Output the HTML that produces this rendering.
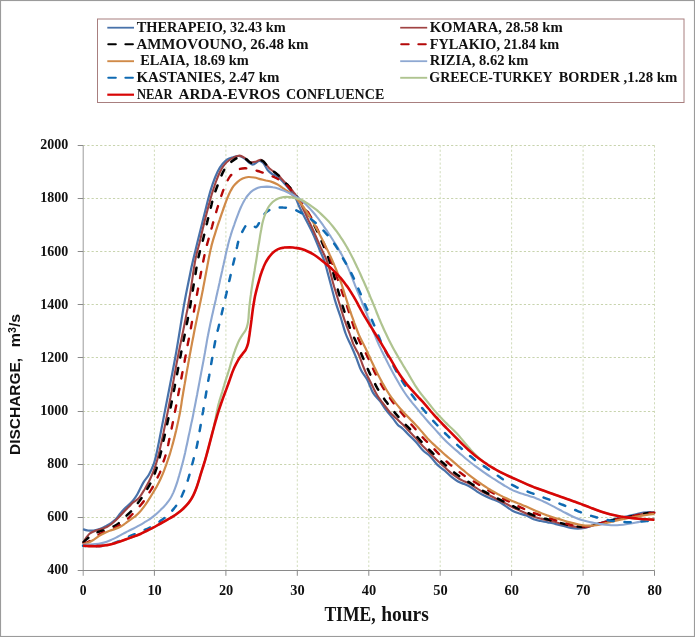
<!DOCTYPE html>
<html><head><meta charset="utf-8"><title>Discharge hydrographs</title>
<style>
html,body{margin:0;padding:0;background:#fff;}
body{width:695px;height:637px;overflow:hidden;}
svg{display:block;}
text{font-family:"Liberation Serif",serif;font-weight:bold;fill:#111;}
.sans{font-family:"Liberation Sans",sans-serif;font-weight:bold;}
</style></head><body>
<svg width="695" height="637" viewBox="0 0 695 637">
<rect x="0" y="0" width="695" height="637" fill="#ffffff"/>
<rect x="0.5" y="0.5" width="694.0" height="636.0" fill="none" stroke="#9b9b9b" stroke-width="1.15"/>
<g stroke="#c8d4ae" stroke-width="1" stroke-dasharray="2.2 2.08" fill="none">
<line x1="154.4" y1="145.4" x2="154.4" y2="570.5" stroke="#ccd8b4" stroke-width="0.9"/>
<line x1="225.9" y1="145.4" x2="225.9" y2="570.5" stroke="#ccd8b4" stroke-width="0.9"/>
<line x1="297.3" y1="145.4" x2="297.3" y2="570.5" stroke="#ccd8b4" stroke-width="0.9"/>
<line x1="368.8" y1="145.4" x2="368.8" y2="570.5" stroke="#ccd8b4" stroke-width="0.9"/>
<line x1="440.2" y1="145.4" x2="440.2" y2="570.5" stroke="#ccd8b4" stroke-width="0.9"/>
<line x1="511.6" y1="145.4" x2="511.6" y2="570.5" stroke="#ccd8b4" stroke-width="0.9"/>
<line x1="583.1" y1="145.4" x2="583.1" y2="570.5" stroke="#ccd8b4" stroke-width="0.9"/>
<line x1="654.5" y1="145.4" x2="654.5" y2="570.5" stroke="#ccd8b4" stroke-width="0.9"/>
<line x1="83.0" y1="517.5" x2="654.5" y2="517.5"/>
<line x1="83.0" y1="464.5" x2="654.5" y2="464.5"/>
<line x1="83.0" y1="411.5" x2="654.5" y2="411.5"/>
<line x1="83.0" y1="357.5" x2="654.5" y2="357.5"/>
<line x1="83.0" y1="304.5" x2="654.5" y2="304.5"/>
<line x1="83.0" y1="251.5" x2="654.5" y2="251.5"/>
<line x1="83.0" y1="198.5" x2="654.5" y2="198.5"/>
<line x1="83.0" y1="145.5" x2="654.5" y2="145.5"/>
</g>
<g stroke="#8a8a8a" stroke-width="1" fill="none">
<line x1="83.2" y1="145.4" x2="83.2" y2="575.8" stroke="#9c9c9c"/>
<line x1="77.7" y1="570.5" x2="654.5" y2="570.5"/>
<line x1="154.4" y1="570.5" x2="154.4" y2="575.8"/>
<line x1="225.9" y1="570.5" x2="225.9" y2="575.8"/>
<line x1="297.3" y1="570.5" x2="297.3" y2="575.8"/>
<line x1="368.8" y1="570.5" x2="368.8" y2="575.8"/>
<line x1="440.2" y1="570.5" x2="440.2" y2="575.8"/>
<line x1="511.6" y1="570.5" x2="511.6" y2="575.8"/>
<line x1="583.1" y1="570.5" x2="583.1" y2="575.8"/>
<line x1="654.5" y1="570.5" x2="654.5" y2="575.8"/>
<line x1="77.7" y1="517.5" x2="83.0" y2="517.5"/>
<line x1="77.7" y1="464.5" x2="83.0" y2="464.5"/>
<line x1="77.7" y1="411.5" x2="83.0" y2="411.5"/>
<line x1="77.7" y1="357.5" x2="83.0" y2="357.5"/>
<line x1="77.7" y1="304.5" x2="83.0" y2="304.5"/>
<line x1="77.7" y1="251.5" x2="83.0" y2="251.5"/>
<line x1="77.7" y1="198.5" x2="83.0" y2="198.5"/>
<line x1="77.7" y1="145.5" x2="83.0" y2="145.5"/>
</g>
<g fill="none" stroke-linejoin="round">
<path d="M83.0 529.2C83.7 529.4 85.9 530.1 87.4 530.4C88.9 530.6 90.6 530.8 92.2 530.7C93.8 530.6 95.3 530.1 96.9 529.7C98.5 529.3 100.0 528.9 101.6 528.3C103.2 527.7 104.7 526.8 106.3 525.9C107.9 525.0 109.4 524.2 111.0 523.1C112.6 522.0 114.1 520.9 115.7 519.3C117.3 517.6 118.9 515.1 120.5 513.2C122.1 511.3 123.6 509.6 125.2 508.0C126.8 506.4 128.5 505.2 129.9 503.8C131.3 502.4 132.4 501.2 133.7 499.6C135.0 498.0 135.9 496.8 137.5 494.0C139.1 491.2 141.4 485.9 143.3 482.6C145.2 479.4 147.3 477.6 149.0 474.5C150.7 471.4 152.3 468.3 153.7 464.2C155.1 460.1 155.4 458.9 157.3 450.0C159.2 441.1 162.0 426.0 165.0 410.6C168.0 395.2 172.0 375.4 175.2 357.8C178.4 340.2 181.6 318.5 184.0 305.0C186.4 291.5 188.0 284.4 189.5 277.0C191.0 269.6 191.0 269.2 193.0 260.6C195.0 252.0 199.1 235.6 201.6 225.4C204.1 215.2 206.2 206.6 208.0 199.7C209.8 192.8 211.1 188.6 212.7 183.9C214.3 179.2 216.0 174.8 217.7 171.4C219.4 168.1 221.1 165.8 222.7 163.8C224.3 161.8 225.6 160.5 227.3 159.4C229.0 158.3 231.1 157.8 233.0 157.2C234.9 156.6 237.1 155.8 239.0 156.0C240.9 156.2 242.9 157.4 244.6 158.5C246.3 159.6 247.6 161.5 249.0 162.5C250.4 163.5 251.5 164.8 253.2 164.5C254.9 164.2 257.3 161.2 259.0 161.0C260.7 160.8 261.9 161.5 263.3 163.0C264.7 164.5 266.2 168.2 267.6 170.0C269.1 171.8 270.3 172.9 272.0 174.0C273.7 175.1 275.8 175.1 277.7 176.5C279.6 177.9 281.6 180.4 283.5 182.5C285.4 184.6 287.3 186.7 289.2 189.0C291.1 191.3 293.4 193.6 295.0 196.5C296.6 199.4 297.2 202.2 299.1 206.2C301.0 210.2 303.8 215.6 306.2 220.3C308.6 225.0 311.1 229.6 313.3 234.5C315.5 239.4 317.7 245.2 319.5 249.5C321.3 253.8 322.6 255.9 324.2 260.5C325.8 265.1 327.0 270.5 328.8 277.0C330.6 283.5 332.9 293.0 334.8 299.6C336.7 306.2 338.6 310.9 340.4 316.5C342.2 322.1 343.9 328.8 345.6 333.5C347.3 338.2 349.0 341.0 350.8 345.0C352.6 349.0 354.5 353.4 356.2 357.6C357.9 361.8 359.2 366.5 361.1 370.3C363.0 374.1 365.5 376.4 367.5 380.2C369.5 384.0 371.0 389.4 373.1 392.9C375.2 396.4 378.1 398.6 380.2 401.4C382.3 404.2 383.8 407.1 385.9 409.9C388.0 412.7 390.9 415.9 392.9 418.4C394.9 420.9 396.4 423.4 397.9 425.0C399.4 426.6 400.2 426.4 402.1 428.1C404.0 429.8 406.8 432.8 409.1 435.2C411.5 437.6 413.8 439.7 416.2 442.3C418.6 444.9 420.9 448.5 423.3 450.8C425.7 453.1 428.0 454.0 430.3 456.4C432.6 458.8 435.0 462.5 437.4 464.9C439.8 467.2 442.1 468.5 444.5 470.5C446.9 472.5 449.2 475.1 451.5 476.9C453.8 478.7 455.9 480.3 458.0 481.5C460.1 482.7 462.0 483.1 464.0 484.0C466.0 484.9 467.8 485.4 470.0 486.7C472.2 488.0 474.8 490.1 477.1 491.6C479.5 493.1 481.8 494.4 484.1 495.6C486.5 496.8 488.8 497.7 491.2 498.7C493.6 499.7 495.9 500.3 498.3 501.5C500.7 502.7 503.0 504.3 505.3 505.8C507.6 507.3 510.0 509.4 512.4 510.7C514.8 512.0 517.1 512.7 519.5 513.5C521.9 514.3 524.1 514.6 526.5 515.6C528.9 516.6 531.2 518.3 533.6 519.2C536.0 520.1 538.2 520.5 540.6 521.0C543.0 521.5 545.3 521.8 547.7 522.3C550.1 522.8 552.4 523.2 554.8 523.8C557.2 524.3 559.6 524.9 562.3 525.6C565.0 526.3 568.3 527.4 570.9 527.9C573.5 528.4 575.5 528.7 577.8 528.7C580.1 528.7 582.4 528.4 584.7 527.9C587.0 527.4 589.0 526.4 591.6 525.6C594.2 524.8 597.4 524.0 600.3 523.2C603.2 522.4 606.0 521.4 608.9 520.6C611.8 519.8 614.6 519.1 617.5 518.4C620.4 517.7 623.3 517.2 626.2 516.6C629.1 516.0 631.9 515.3 634.8 514.6C637.7 513.9 640.8 512.9 643.4 512.5C646.0 512.1 648.6 512.1 650.4 512.1C652.2 512.1 653.7 512.4 654.4 512.5" stroke="#4872aa" stroke-width="2.2"/>
<path d="M83.0 542.9C83.5 542.0 84.9 539.4 86.1 537.8C87.3 536.2 88.5 534.5 90.0 533.3C91.6 532.1 93.6 531.4 95.4 530.7C97.3 530.0 99.3 529.6 101.2 529.0C103.1 528.4 105.0 527.9 106.8 527.0C108.6 526.1 110.3 525.0 111.8 523.8C113.4 522.5 114.8 521.1 116.3 519.7C117.7 518.4 119.2 517.0 120.5 515.5C121.9 514.1 123.2 512.5 124.6 511.1C126.0 509.6 127.4 508.2 128.8 506.8C130.2 505.4 131.5 503.8 133.0 502.5C134.5 501.3 136.5 500.5 137.9 499.1C139.3 497.7 140.4 495.9 141.5 494.3C142.6 492.7 143.6 490.9 144.7 489.2C145.7 487.5 146.7 485.8 147.6 484.0C148.6 482.3 149.5 480.5 150.3 478.7C151.2 476.9 152.0 475.0 152.7 473.2C153.5 471.3 154.2 469.4 154.8 467.5C155.5 465.7 156.1 463.8 156.7 461.8C157.3 459.9 157.8 458.0 158.3 456.1C158.8 454.1 159.2 452.2 159.7 450.2C160.1 448.3 160.6 446.3 161.0 444.4C161.4 442.4 161.9 440.5 162.3 438.5C162.7 436.6 163.1 434.6 163.5 432.7C163.9 430.7 164.3 428.7 164.7 426.8C165.1 424.8 165.5 422.9 165.9 420.9C166.3 419.0 166.7 417.0 167.1 415.0C167.5 413.1 167.9 411.1 168.3 409.1C168.7 407.2 169.0 405.2 169.4 403.3C169.8 401.3 170.1 399.3 170.5 397.4C170.8 395.4 171.2 393.4 171.6 391.5C171.9 389.5 172.3 387.5 172.6 385.6C173.0 383.6 173.3 381.6 173.7 379.7C174.0 377.7 174.4 375.7 174.7 373.8C175.1 371.8 175.5 369.8 175.8 367.9C176.2 365.9 176.5 363.9 176.9 362.0C177.3 360.0 177.7 358.0 178.0 356.1C178.4 354.1 178.8 352.1 179.2 350.2C179.6 348.2 180.0 346.3 180.4 344.3C180.8 342.3 181.2 340.4 181.6 338.4C182.0 336.5 182.4 334.5 182.8 332.6C183.2 330.6 183.6 328.6 184.0 326.7C184.4 324.7 184.8 322.8 185.2 320.8C185.6 318.8 185.9 316.9 186.3 314.9C186.7 313.0 187.1 311.0 187.5 309.0C187.8 307.1 188.2 305.1 188.5 303.1C188.9 301.2 189.2 299.2 189.5 297.2C189.9 295.2 190.2 293.3 190.5 291.3C190.8 289.3 191.1 287.3 191.4 285.4C191.7 283.4 192.0 281.4 192.3 279.4C192.6 277.5 192.8 275.5 193.1 273.5C193.4 271.5 193.7 269.6 194.0 267.6C194.4 265.6 194.7 263.6 195.0 261.7C195.4 259.7 195.7 257.7 196.2 255.8C196.6 253.8 197.1 251.9 197.6 250.0C198.1 248.0 198.7 246.1 199.2 244.2C199.7 242.2 200.1 240.3 200.6 238.3C201.0 236.4 201.5 234.4 201.9 232.5C202.4 230.5 202.8 228.6 203.3 226.7C203.8 224.7 204.3 222.8 204.7 220.8C205.2 218.9 205.7 217.0 206.2 215.0C206.7 213.1 207.2 211.2 207.7 209.2C208.2 207.3 208.7 205.4 209.3 203.4C209.8 201.5 210.3 199.6 210.8 197.6C211.4 195.7 211.9 193.8 212.5 191.9C213.1 190.0 213.8 188.1 214.4 186.2C215.0 184.3 215.7 182.4 216.4 180.5C217.1 178.7 217.8 176.8 218.6 175.0C219.4 173.1 220.2 171.3 221.2 169.6C222.2 167.8 223.2 166.1 224.5 164.6C225.8 163.0 227.3 161.6 228.8 160.5C230.4 159.3 232.2 158.2 234.0 157.4C235.8 156.6 237.8 155.5 239.6 155.6C241.5 155.7 243.3 157.2 245.0 158.2C246.6 159.3 247.9 161.3 249.7 161.9C251.4 162.5 253.7 162.2 255.6 161.8C257.5 161.4 259.3 159.4 260.9 159.7C262.5 160.0 264.0 162.2 265.4 163.7C266.7 165.1 267.9 166.8 269.3 168.2C270.7 169.5 272.4 170.7 274.0 171.9C275.5 173.1 277.3 174.2 278.7 175.6C280.2 176.9 281.3 178.6 282.7 180.0C284.1 181.5 285.5 182.9 286.9 184.4C288.2 185.8 289.7 187.2 291.0 188.7C292.2 190.3 293.5 191.8 294.6 193.5C295.8 195.1 296.8 196.8 297.8 198.6C298.8 200.3 299.7 202.1 300.7 203.8C301.6 205.6 302.4 207.4 303.3 209.2C304.2 211.0 305.0 212.8 305.9 214.6C306.7 216.4 307.6 218.3 308.4 220.1C309.3 221.9 310.1 223.7 311.0 225.5C311.8 227.3 312.6 229.1 313.5 230.9C314.3 232.8 315.1 234.6 315.9 236.4C316.7 238.3 317.5 240.1 318.3 241.9C319.1 243.8 319.9 245.6 320.7 247.4C321.6 249.2 322.5 251.0 323.3 252.8C324.2 254.6 325.1 256.4 325.8 258.3C326.6 260.1 327.3 262.0 327.9 263.9C328.5 265.8 329.1 267.7 329.6 269.6C330.1 271.6 330.6 273.5 331.1 275.4C331.6 277.4 332.1 279.3 332.6 281.2C333.1 283.2 333.7 285.1 334.2 287.0C334.8 288.9 335.4 290.8 336.0 292.7C336.6 294.6 337.2 296.5 337.8 298.5C338.4 300.4 339.0 302.3 339.6 304.2C340.2 306.1 340.7 308.0 341.3 309.9C341.9 311.8 342.5 313.7 343.1 315.6C343.7 317.5 344.3 319.4 345.0 321.3C345.6 323.2 346.3 325.1 347.0 327.0C347.7 328.8 348.5 330.7 349.2 332.6C349.9 334.4 350.5 336.3 351.2 338.2C351.9 340.1 352.5 342.0 353.2 343.8C354.0 345.7 355.0 347.4 355.9 349.2C356.8 351.0 357.8 352.7 358.7 354.5C359.5 356.3 360.2 358.2 360.9 360.1C361.6 362.0 362.2 363.9 362.9 365.7C363.6 367.6 364.4 369.4 365.2 371.3C366.0 373.1 366.9 374.9 367.8 376.7C368.6 378.5 369.6 380.2 370.5 382.0C371.4 383.8 372.2 385.6 373.1 387.4C374.0 389.2 374.8 391.0 375.8 392.8C376.7 394.5 377.8 396.3 378.9 397.9C380.0 399.6 381.3 401.1 382.5 402.7C383.7 404.3 384.9 405.9 386.1 407.5C387.3 409.1 388.5 410.7 389.8 412.2C391.1 413.7 392.6 415.0 394.1 416.4C395.5 417.7 397.0 419.0 398.5 420.4C400.0 421.8 401.4 423.2 402.8 424.6C404.2 426.0 405.6 427.4 407.0 428.9C408.4 430.3 409.8 431.7 411.1 433.2C412.5 434.7 413.9 436.1 415.2 437.6C416.6 439.1 417.9 440.6 419.2 442.1C420.6 443.5 421.9 445.0 423.3 446.5C424.7 447.9 426.1 449.3 427.5 450.8C428.9 452.2 430.3 453.6 431.7 455.0C433.1 456.4 434.5 457.8 436.0 459.2C437.4 460.6 438.9 462.0 440.4 463.3C441.8 464.7 443.3 466.0 444.8 467.3C446.3 468.7 447.7 470.1 449.2 471.4C450.7 472.7 452.3 474.0 453.9 475.2C455.5 476.4 457.1 477.5 458.8 478.5C460.5 479.6 462.4 480.4 464.2 481.3C465.9 482.1 467.8 482.8 469.6 483.7C471.4 484.7 473.0 485.8 474.7 486.9C476.4 487.9 478.0 489.1 479.7 490.1C481.4 491.2 483.2 492.2 484.9 493.1C486.7 494.1 488.5 494.9 490.3 495.8C492.1 496.7 493.9 497.6 495.6 498.5C497.4 499.4 499.2 500.3 501.0 501.2C502.8 502.1 504.6 503.0 506.4 503.9C508.1 504.8 509.9 505.8 511.7 506.7C513.4 507.6 515.3 508.4 517.1 509.3C518.9 510.1 520.7 511.0 522.5 511.8C524.3 512.6 526.1 513.5 528.0 514.2C529.8 515.0 531.7 515.8 533.6 516.4C535.4 517.1 537.4 517.7 539.3 518.2C541.2 518.8 543.2 519.2 545.1 519.7C547.0 520.1 549.0 520.5 551.0 521.0C552.9 521.4 554.8 521.9 556.8 522.4C558.7 522.9 560.6 523.4 562.6 524.0C564.5 524.5 566.4 525.0 568.4 525.4C570.3 525.9 572.3 526.3 574.3 526.6C576.2 526.9 578.2 527.3 580.2 527.4C582.2 527.5 584.2 527.5 586.1 527.2C588.1 526.9 590.0 526.3 592.0 525.8C593.9 525.3 595.8 524.7 597.7 524.1C599.6 523.6 601.6 523.1 603.5 522.6C605.4 522.1 607.4 521.6 609.3 521.1C611.3 520.6 613.2 520.1 615.1 519.7C617.1 519.2 619.0 518.8 621.0 518.5C623.0 518.1 625.0 517.8 626.9 517.5C628.9 517.1 630.9 516.7 632.8 516.3C634.8 515.9 636.7 515.3 638.6 514.9C640.6 514.4 642.5 513.8 644.5 513.5C646.4 513.2 648.7 513.0 650.4 512.9C652.1 512.7 653.7 512.8 654.4 512.8" stroke="#a04343" stroke-width="2.1"/>
<path d="M83.0 542.7C83.7 542.0 85.9 539.9 87.4 538.6C88.9 537.3 90.4 536.0 92.1 535.0C93.8 533.9 95.6 533.0 97.5 532.2C99.3 531.5 101.3 531.2 103.2 530.5C105.1 529.9 107.0 529.3 108.8 528.5C110.7 527.8 112.6 527.0 114.3 526.1C116.1 525.1 117.8 524.0 119.3 522.8C120.9 521.5 122.1 520.0 123.6 518.6C125.0 517.2 126.5 515.8 127.9 514.4C129.4 513.0 130.8 511.7 132.2 510.2C133.5 508.7 134.7 507.1 136.0 505.6C137.2 504.0 138.4 502.4 139.6 500.8C140.7 499.2 141.9 497.5 143.0 495.9C144.1 494.2 145.2 492.5 146.2 490.8C147.2 489.1 148.2 487.4 149.2 485.6C150.2 483.8 151.1 482.1 151.9 480.3C152.7 478.4 153.5 476.6 154.3 474.7C155.0 472.9 155.6 471.0 156.3 469.1C156.9 467.2 157.4 465.3 158.0 463.4C158.6 461.4 159.1 459.5 159.6 457.6C160.1 455.6 160.6 453.7 161.1 451.8C161.5 449.8 162.0 447.9 162.4 445.9C162.8 444.0 163.2 442.0 163.6 440.1C164.1 438.1 164.5 436.2 165.0 434.2C165.4 432.3 165.8 430.3 166.2 428.4C166.7 426.4 167.1 424.5 167.5 422.5C167.9 420.5 168.3 418.6 168.8 416.6C169.2 414.7 169.6 412.7 170.0 410.8C170.4 408.8 170.7 406.8 171.1 404.9C171.5 402.9 171.9 401.0 172.3 399.0C172.7 397.0 173.1 395.1 173.4 393.1C173.8 391.2 174.2 389.2 174.6 387.2C174.9 385.3 175.3 383.3 175.7 381.3C176.1 379.4 176.4 377.4 176.8 375.4C177.2 373.5 177.6 371.5 177.9 369.6C178.3 367.6 178.7 365.6 179.1 363.7C179.4 361.7 179.8 359.7 180.2 357.8C180.6 355.8 181.0 353.9 181.3 351.9C181.7 349.9 182.1 348.0 182.5 346.0C182.9 344.1 183.3 342.1 183.6 340.1C184.0 338.2 184.4 336.2 184.8 334.3C185.2 332.3 185.6 330.3 185.9 328.4C186.3 326.4 186.7 324.4 187.1 322.5C187.5 320.5 187.9 318.6 188.2 316.6C188.6 314.6 189.0 312.7 189.4 310.7C189.7 308.7 190.1 306.8 190.4 304.8C190.7 302.8 191.1 300.9 191.4 298.9C191.7 296.9 192.0 295.0 192.4 293.0C192.7 291.0 193.0 289.0 193.3 287.1C193.6 285.1 194.0 283.1 194.3 281.1C194.6 279.2 194.9 277.2 195.3 275.2C195.6 273.3 195.9 271.3 196.2 269.3C196.6 267.3 196.9 265.4 197.3 263.4C197.7 261.4 198.0 259.5 198.4 257.5C198.9 255.6 199.3 253.6 199.8 251.7C200.3 249.8 200.9 247.9 201.4 245.9C201.9 244.0 202.4 242.0 202.9 240.1C203.4 238.2 203.8 236.2 204.3 234.3C204.7 232.3 205.2 230.4 205.7 228.4C206.1 226.5 206.6 224.6 207.1 222.6C207.5 220.7 208.0 218.7 208.5 216.8C209.0 214.8 209.4 212.9 209.9 211.0C210.4 209.0 210.9 207.1 211.4 205.1C211.8 203.2 212.3 201.3 212.9 199.3C213.4 197.4 213.9 195.5 214.6 193.6C215.2 191.7 215.9 189.8 216.6 188.0C217.3 186.1 218.0 184.2 218.7 182.4C219.5 180.5 220.1 178.6 220.9 176.8C221.7 174.9 222.4 173.1 223.4 171.3C224.4 169.6 225.5 167.9 226.8 166.4C228.0 164.8 229.5 163.4 231.0 162.1C232.5 160.8 234.1 159.6 235.8 158.6C237.6 157.7 239.6 156.3 241.3 156.5C243.1 156.6 244.8 158.3 246.5 159.4C248.1 160.5 249.5 162.6 251.3 162.9C253.0 163.2 255.0 161.4 256.9 161.0C258.8 160.7 261.0 160.1 262.7 160.8C264.3 161.5 265.3 163.8 266.7 165.2C268.1 166.7 269.4 168.2 270.9 169.5C272.4 170.8 274.2 171.8 275.7 173.0C277.3 174.3 278.8 175.6 280.2 177.0C281.6 178.4 282.8 180.0 284.2 181.5C285.5 183.0 287.0 184.3 288.4 185.8C289.7 187.2 291.0 188.8 292.3 190.3C293.6 191.8 294.7 193.5 295.9 195.1C297.1 196.7 298.3 198.3 299.4 199.9C300.6 201.6 301.7 203.2 302.8 204.9C303.9 206.6 304.9 208.3 305.9 210.0C307.0 211.7 307.9 213.5 308.9 215.2C309.9 216.9 310.9 218.7 311.8 220.5C312.7 222.2 313.7 224.0 314.5 225.8C315.4 227.6 316.3 229.4 317.1 231.2C318.0 233.0 318.8 234.8 319.6 236.7C320.4 238.5 321.2 240.3 322.0 242.2C322.8 244.0 323.5 245.8 324.3 247.7C325.1 249.5 325.9 251.4 326.6 253.2C327.3 255.1 328.1 256.9 328.7 258.8C329.4 260.7 330.1 262.6 330.7 264.5C331.3 266.4 331.9 268.3 332.5 270.2C333.1 272.1 333.6 274.0 334.1 276.0C334.7 277.9 335.2 279.8 335.7 281.7C336.2 283.7 336.7 285.6 337.3 287.5C337.8 289.5 338.3 291.4 338.9 293.3C339.4 295.2 340.0 297.1 340.6 299.1C341.1 301.0 341.7 302.9 342.3 304.8C342.9 306.7 343.5 308.6 344.1 310.5C344.7 312.4 345.3 314.3 346.0 316.2C346.6 318.1 347.2 320.0 347.8 321.9C348.5 323.8 349.1 325.7 349.8 327.6C350.5 329.4 351.3 331.3 352.1 333.1C352.8 335.0 353.7 336.8 354.5 338.6C355.3 340.4 356.2 342.2 357.0 344.0C357.8 345.9 358.6 347.7 359.5 349.5C360.3 351.3 361.1 353.2 361.8 355.0C362.6 356.8 363.4 358.7 364.2 360.5C365.0 362.4 365.7 364.2 366.5 366.0C367.3 367.9 368.1 369.7 368.9 371.5C369.7 373.4 370.6 375.2 371.4 377.0C372.3 378.8 373.2 380.5 374.2 382.3C375.1 384.1 376.0 385.8 377.0 387.6C378.0 389.3 379.1 391.0 380.1 392.7C381.2 394.4 382.3 396.1 383.4 397.7C384.5 399.4 385.7 401.0 386.9 402.6C388.1 404.2 389.3 405.8 390.5 407.4C391.7 408.9 393.0 410.5 394.3 412.0C395.6 413.6 396.9 415.1 398.2 416.6C399.5 418.1 400.8 419.6 402.2 421.0C403.6 422.5 404.9 423.9 406.3 425.4C407.7 426.8 409.1 428.2 410.5 429.7C411.8 431.1 413.2 432.6 414.5 434.1C415.9 435.6 417.2 437.0 418.6 438.5C419.9 440.0 421.3 441.5 422.6 442.9C424.0 444.4 425.4 445.8 426.8 447.2C428.2 448.7 429.6 450.1 431.0 451.5C432.4 452.9 433.9 454.3 435.3 455.7C436.7 457.1 438.2 458.5 439.7 459.8C441.1 461.2 442.6 462.5 444.1 463.8C445.6 465.2 447.1 466.5 448.6 467.8C450.1 469.1 451.6 470.4 453.2 471.7C454.7 472.9 456.3 474.1 458.0 475.2C459.6 476.4 461.3 477.5 463.0 478.5C464.6 479.6 466.4 480.6 468.1 481.7C469.8 482.8 471.5 483.8 473.2 484.9C474.8 485.9 476.5 487.0 478.2 488.0C479.9 489.1 481.7 490.1 483.4 491.1C485.1 492.1 486.9 493.0 488.7 493.9C490.5 494.8 492.2 495.7 494.0 496.6C495.8 497.5 497.6 498.4 499.4 499.3C501.2 500.2 503.0 501.1 504.7 502.0C506.5 502.9 508.3 503.8 510.1 504.7C511.9 505.6 513.6 506.5 515.4 507.4C517.2 508.3 519.1 509.1 520.9 509.9C522.7 510.8 524.5 511.6 526.3 512.4C528.2 513.1 530.0 513.9 531.9 514.6C533.8 515.3 535.7 516.0 537.6 516.6C539.5 517.2 541.4 517.7 543.3 518.3C545.2 518.8 547.2 519.3 549.1 519.8C551.0 520.3 552.9 520.9 554.9 521.4C556.8 521.9 558.7 522.5 560.7 523.0C562.6 523.5 564.5 524.0 566.5 524.5C568.4 525.0 570.3 525.4 572.3 525.8C574.3 526.1 576.2 526.5 578.2 526.6C580.2 526.8 582.2 526.9 584.1 526.8C586.1 526.7 588.0 526.3 590.0 525.9C591.9 525.5 593.9 525.0 595.8 524.4C597.7 523.9 599.6 523.4 601.6 522.9C603.5 522.4 605.4 521.9 607.4 521.4C609.3 520.9 611.2 520.4 613.2 520.0C615.1 519.5 617.1 519.1 619.1 518.7C621.0 518.3 623.0 518.0 625.0 517.7C626.9 517.3 628.9 517.0 630.8 516.5C632.8 516.1 634.7 515.7 636.7 515.2C638.6 514.8 640.6 514.3 642.5 513.9C644.5 513.6 646.5 513.3 648.4 513.1C650.4 512.9 653.4 512.8 654.4 512.7" stroke="#000000" stroke-width="2.5" stroke-dasharray="6.2 10.8" stroke-dashoffset="-1.05" stroke-linecap="round"/>
<path d="M83.0 543.8C83.9 543.5 86.9 542.7 88.6 541.7C90.4 540.8 91.9 539.4 93.5 538.2C95.1 537.1 96.7 535.8 98.4 534.8C100.1 533.8 102.0 533.1 103.9 532.4C105.7 531.6 107.7 531.0 109.5 530.2C111.4 529.5 113.2 528.7 115.0 527.8C116.8 526.9 118.5 525.9 120.2 524.8C121.9 523.7 123.5 522.5 125.0 521.3C126.6 520.0 128.0 518.6 129.5 517.2C130.9 515.8 132.3 514.4 133.6 512.9C135.0 511.4 136.3 509.9 137.6 508.4C139.0 507.0 140.4 505.5 141.6 504.0C142.9 502.4 144.1 500.8 145.2 499.1C146.3 497.5 147.3 495.7 148.3 494.0C149.4 492.3 150.6 490.7 151.6 489.0C152.7 487.3 153.6 485.5 154.5 483.7C155.4 481.9 156.2 480.1 157.1 478.3C158.0 476.5 159.0 474.8 159.8 472.9C160.5 471.1 161.1 469.2 161.7 467.2C162.3 465.3 162.9 463.4 163.5 461.5C164.1 459.6 164.9 457.8 165.4 455.8C166.0 453.9 166.5 452.0 166.9 450.0C167.4 448.1 167.8 446.1 168.3 444.2C168.7 442.2 169.1 440.3 169.5 438.3C169.9 436.4 170.4 434.4 170.8 432.4C171.2 430.5 171.6 428.5 172.0 426.6C172.4 424.6 172.8 422.6 173.2 420.7C173.6 418.7 174.0 416.8 174.4 414.8C174.8 412.8 175.1 410.9 175.5 408.9C175.9 406.9 176.3 405.0 176.7 403.0C177.0 401.0 177.4 399.1 177.8 397.1C178.2 395.1 178.5 393.2 178.9 391.2C179.3 389.2 179.7 387.3 180.0 385.3C180.4 383.3 180.8 381.4 181.1 379.4C181.5 377.5 181.9 375.5 182.2 373.5C182.6 371.6 183.0 369.6 183.3 367.6C183.7 365.7 184.1 363.7 184.5 361.7C184.8 359.8 185.2 357.8 185.6 355.8C186.0 353.9 186.3 351.9 186.7 349.9C187.1 348.0 187.5 346.0 187.8 344.0C188.2 342.1 188.6 340.1 189.0 338.1C189.4 336.2 189.7 334.2 190.1 332.2C190.5 330.3 190.9 328.3 191.2 326.3C191.6 324.4 191.9 322.4 192.3 320.4C192.7 318.5 193.0 316.5 193.4 314.5C193.7 312.6 194.1 310.6 194.4 308.6C194.8 306.7 195.1 304.7 195.5 302.7C195.8 300.7 196.2 298.8 196.6 296.8C196.9 294.8 197.3 292.9 197.6 290.9C198.0 288.9 198.4 287.0 198.7 285.0C199.1 283.0 199.4 281.1 199.8 279.1C200.2 277.1 200.5 275.2 200.9 273.2C201.3 271.2 201.6 269.3 202.0 267.3C202.4 265.3 202.8 263.4 203.2 261.4C203.6 259.4 204.0 257.5 204.4 255.5C204.8 253.6 205.3 251.6 205.8 249.7C206.2 247.7 206.7 245.8 207.2 243.9C207.8 241.9 208.3 240.0 208.8 238.1C209.4 236.1 209.9 234.2 210.4 232.3C211.0 230.4 211.5 228.4 212.1 226.5C212.6 224.6 213.1 222.6 213.7 220.7C214.2 218.8 214.8 216.9 215.3 215.0C215.9 213.0 216.5 211.1 217.0 209.2C217.6 207.3 218.2 205.4 218.8 203.5C219.4 201.6 220.0 199.6 220.6 197.7C221.3 195.9 221.9 194.0 222.6 192.1C223.3 190.2 224.0 188.3 224.8 186.5C225.6 184.6 226.3 182.8 227.3 181.0C228.2 179.3 229.2 177.5 230.4 175.9C231.7 174.4 233.1 172.9 234.7 171.7C236.3 170.5 238.1 169.5 240.0 168.9C241.8 168.4 243.9 168.2 245.9 168.3C247.9 168.4 249.9 168.9 251.8 169.4C253.8 169.8 255.7 170.4 257.6 171.0C259.5 171.6 261.4 172.1 263.3 172.7C265.2 173.4 267.1 174.1 269.0 174.8C270.8 175.6 272.7 176.4 274.5 177.2C276.3 178.1 278.0 179.0 279.7 180.1C281.4 181.1 283.1 182.2 284.7 183.5C286.2 184.7 287.7 186.1 289.0 187.6C290.4 189.1 291.5 190.7 292.8 192.3C294.0 193.9 295.2 195.5 296.6 196.9C297.9 198.4 299.5 199.7 300.8 201.2C302.1 202.7 303.3 204.3 304.4 206.0C305.5 207.6 306.5 209.4 307.5 211.1C308.5 212.9 309.5 214.6 310.5 216.3C311.5 218.1 312.4 219.8 313.4 221.6C314.3 223.4 315.3 225.1 316.2 226.9C317.1 228.7 317.9 230.5 318.8 232.3C319.7 234.1 320.5 235.9 321.3 237.7C322.2 239.6 323.0 241.4 323.8 243.2C324.6 245.0 325.4 246.9 326.2 248.7C327.0 250.5 327.8 252.4 328.6 254.2C329.4 256.1 330.1 257.9 330.8 259.8C331.6 261.7 332.2 263.5 332.9 265.4C333.6 267.3 334.2 269.2 334.9 271.1C335.5 273.0 336.2 274.9 336.8 276.8C337.5 278.7 338.1 280.6 338.8 282.4C339.4 284.3 340.1 286.2 340.8 288.1C341.4 290.0 342.1 291.9 342.7 293.8C343.4 295.7 344.1 297.5 344.7 299.4C345.4 301.3 346.1 303.2 346.7 305.1C347.4 307.0 348.0 308.9 348.6 310.8C349.2 312.7 349.8 314.6 350.4 316.5C351.0 318.4 351.6 320.3 352.2 322.2C352.9 324.1 353.5 326.0 354.1 327.9C354.8 329.8 355.5 331.7 356.2 333.6C356.9 335.4 357.7 337.3 358.5 339.1C359.3 340.9 360.2 342.7 361.1 344.5C362.0 346.3 363.1 348.0 364.0 349.8C364.9 351.5 365.9 353.3 366.8 355.1C367.7 356.9 368.5 358.7 369.3 360.5C370.2 362.3 371.0 364.2 371.8 366.0C372.6 367.8 373.5 369.6 374.3 371.4C375.2 373.2 376.1 375.0 377.0 376.8C377.9 378.6 378.8 380.3 379.8 382.1C380.8 383.8 381.8 385.6 382.8 387.3C383.9 389.0 384.9 390.7 386.0 392.3C387.1 394.0 388.3 395.7 389.4 397.3C390.5 399.0 391.7 400.6 392.9 402.2C394.1 403.8 395.3 405.4 396.6 406.9C397.8 408.5 399.1 410.0 400.4 411.5C401.7 413.1 403.0 414.6 404.3 416.1C405.6 417.7 406.9 419.2 408.2 420.7C409.5 422.2 410.8 423.7 412.1 425.3C413.4 426.8 414.7 428.3 416.0 429.8C417.3 431.4 418.5 432.9 419.9 434.4C421.2 435.9 422.6 437.3 424.0 438.8C425.4 440.2 426.8 441.6 428.2 443.0C429.6 444.4 431.1 445.8 432.5 447.2C433.9 448.7 435.2 450.1 436.6 451.6C438.0 453.0 439.3 454.5 440.7 456.0C442.1 457.4 443.5 458.8 445.0 460.1C446.5 461.5 448.0 462.8 449.5 464.1C451.1 465.4 452.6 466.6 454.2 467.9C455.7 469.1 457.3 470.4 458.9 471.6C460.5 472.8 462.1 474.0 463.7 475.2C465.3 476.3 467.1 477.3 468.7 478.4C470.4 479.5 472.2 480.5 473.9 481.5C475.6 482.6 477.3 483.6 479.0 484.7C480.7 485.7 482.4 486.8 484.1 487.8C485.8 488.8 487.5 489.8 489.3 490.9C491.0 491.9 492.7 492.9 494.4 493.9C496.2 494.9 497.9 495.8 499.7 496.8C501.5 497.7 503.2 498.7 505.0 499.6C506.8 500.5 508.6 501.4 510.4 502.3C512.2 503.2 514.0 504.0 515.8 504.9C517.6 505.8 519.3 506.7 521.1 507.6C523.0 508.4 524.8 509.3 526.6 510.1C528.4 510.9 530.3 511.6 532.1 512.4C534.0 513.1 535.9 513.7 537.8 514.4C539.7 515.1 541.6 515.7 543.5 516.3C545.4 517.0 547.3 517.6 549.2 518.2C551.1 518.8 553.0 519.4 554.9 520.0C556.8 520.6 558.7 521.2 560.6 521.8C562.5 522.4 564.4 523.0 566.4 523.5C568.3 524.1 570.2 524.6 572.2 525.0C574.1 525.4 576.1 525.8 578.1 526.1C580.0 526.3 582.0 526.5 584.0 526.5C585.9 526.4 587.9 526.1 589.9 525.8C591.8 525.5 593.8 524.9 595.7 524.5C597.6 524.0 599.6 523.4 601.5 522.9C603.4 522.4 605.4 521.9 607.3 521.4C609.3 520.9 611.2 520.4 613.1 520.0C615.1 519.5 617.0 519.1 619.0 518.7C621.0 518.4 622.9 518.0 624.9 517.7C626.9 517.3 628.9 517.0 630.8 516.6C632.8 516.1 634.7 515.7 636.7 515.2C638.6 514.8 640.6 514.3 642.5 513.9C644.5 513.6 646.4 513.3 648.4 513.1C650.4 512.9 653.4 512.8 654.4 512.7" stroke="#b40808" stroke-width="2.4" stroke-dasharray="6.4 10.6" stroke-dashoffset="-1.05" stroke-linecap="round"/>
<path d="M83.0 544.3C84.0 544.0 86.9 543.4 88.8 542.6C90.6 541.8 92.2 540.7 93.9 539.6C95.6 538.5 97.1 537.2 98.8 536.1C100.5 535.1 102.3 534.1 104.1 533.2C105.8 532.3 107.7 531.5 109.6 530.8C111.4 530.1 113.4 529.6 115.2 528.9C117.1 528.2 119.0 527.5 120.7 526.5C122.5 525.6 124.1 524.3 125.7 523.2C127.3 522.0 128.9 520.7 130.5 519.6C132.1 518.4 133.8 517.3 135.4 516.1C136.9 514.8 138.4 513.4 139.7 512.0C141.1 510.5 142.3 508.9 143.5 507.3C144.7 505.7 145.9 504.1 147.0 502.4C148.1 500.7 149.1 499.0 150.2 497.3C151.3 495.7 152.3 493.9 153.3 492.2C154.3 490.5 155.4 488.8 156.4 487.1C157.4 485.3 158.3 483.6 159.2 481.8C160.1 480.0 160.9 478.2 161.7 476.3C162.5 474.5 163.3 472.6 164.0 470.8C164.7 468.9 165.4 467.0 166.1 465.2C166.7 463.3 167.4 461.4 168.0 459.5C168.7 457.6 169.3 455.7 169.9 453.8C170.5 451.9 171.0 450.0 171.6 448.0C172.1 446.1 172.7 444.2 173.2 442.2C173.7 440.3 174.2 438.4 174.7 436.4C175.1 434.5 175.6 432.5 176.1 430.6C176.5 428.7 177.0 426.7 177.4 424.8C177.9 422.8 178.3 420.9 178.7 418.9C179.1 416.9 179.5 415.0 179.9 413.0C180.3 411.1 180.6 409.1 180.9 407.1C181.3 405.1 181.5 403.2 181.8 401.2C182.1 399.2 182.4 397.2 182.8 395.3C183.1 393.3 183.4 391.3 183.8 389.3C184.1 387.4 184.4 385.4 184.8 383.4C185.1 381.5 185.5 379.5 185.8 377.5C186.1 375.6 186.5 373.6 186.8 371.6C187.2 369.6 187.5 367.7 187.9 365.7C188.2 363.7 188.6 361.8 188.9 359.8C189.3 357.8 189.7 355.9 190.0 353.9C190.4 351.9 190.7 350.0 191.1 348.0C191.5 346.0 191.9 344.1 192.2 342.1C192.6 340.2 193.0 338.2 193.4 336.2C193.8 334.3 194.1 332.3 194.5 330.3C194.9 328.4 195.3 326.4 195.7 324.5C196.1 322.5 196.5 320.5 196.9 318.6C197.3 316.6 197.7 314.7 198.1 312.7C198.5 310.8 199.0 308.8 199.4 306.8C199.8 304.9 200.2 302.9 200.6 301.0C201.0 299.0 201.4 297.0 201.8 295.1C202.2 293.1 202.6 291.2 203.0 289.2C203.3 287.2 203.7 285.3 204.1 283.3C204.5 281.4 204.8 279.4 205.2 277.4C205.6 275.5 205.9 273.5 206.3 271.5C206.7 269.6 207.0 267.6 207.4 265.6C207.8 263.7 208.1 261.7 208.5 259.7C208.9 257.8 209.3 255.8 209.7 253.9C210.1 251.9 210.5 249.9 211.0 248.0C211.4 246.0 211.9 244.1 212.5 242.2C213.0 240.3 213.6 238.3 214.2 236.4C214.8 234.5 215.4 232.6 216.0 230.7C216.6 228.8 217.2 226.9 217.8 225.0C218.5 223.1 219.1 221.2 219.8 219.3C220.4 217.4 221.1 215.5 221.7 213.7C222.4 211.8 223.0 209.9 223.7 208.0C224.3 206.1 225.0 204.2 225.7 202.3C226.4 200.5 227.1 198.6 227.9 196.8C228.7 194.9 229.5 193.1 230.4 191.3C231.4 189.6 232.3 187.8 233.5 186.2C234.7 184.6 236.1 183.1 237.6 181.8C239.1 180.5 240.8 179.3 242.6 178.5C244.4 177.8 246.4 177.2 248.4 177.0C250.3 176.9 252.4 177.2 254.3 177.5C256.3 177.8 258.2 178.6 260.1 179.1C262.1 179.6 264.0 180.0 266.0 180.5C267.9 180.9 269.9 181.2 271.8 181.9C273.7 182.5 275.5 183.4 277.2 184.3C279.0 185.3 280.6 186.5 282.3 187.6C283.9 188.7 285.6 189.8 287.2 191.0C288.8 192.2 290.4 193.4 291.9 194.7C293.5 196.0 295.1 197.2 296.5 198.6C297.9 200.0 299.3 201.5 300.6 203.0C301.8 204.5 302.9 206.2 304.1 207.9C305.2 209.5 306.3 211.2 307.3 212.9C308.4 214.6 309.5 216.3 310.5 218.0C311.6 219.7 312.6 221.4 313.6 223.1C314.6 224.9 315.5 226.6 316.5 228.4C317.4 230.1 318.4 231.9 319.3 233.7C320.2 235.5 321.1 237.3 322.0 239.0C322.9 240.8 323.8 242.6 324.7 244.4C325.5 246.2 326.4 248.0 327.3 249.8C328.2 251.6 329.1 253.4 329.9 255.2C330.8 257.0 331.6 258.8 332.4 260.7C333.2 262.5 334.0 264.3 334.7 266.2C335.5 268.0 336.3 269.9 337.0 271.7C337.7 273.6 338.5 275.5 339.2 277.3C339.8 279.2 340.5 281.1 341.2 283.0C341.8 284.9 342.4 286.8 343.0 288.7C343.6 290.6 344.2 292.5 344.8 294.4C345.4 296.3 346.0 298.2 346.6 300.1C347.2 302.0 347.8 303.9 348.4 305.8C349.0 307.7 349.7 309.6 350.3 311.5C351.0 313.4 351.6 315.3 352.3 317.2C353.0 319.1 353.7 321.0 354.3 322.8C355.0 324.7 355.7 326.6 356.4 328.5C357.1 330.3 357.8 332.2 358.6 334.1C359.4 335.9 360.2 337.7 361.1 339.5C361.9 341.3 362.9 343.1 363.8 344.8C364.7 346.6 365.6 348.4 366.5 350.2C367.4 352.0 368.2 353.8 369.0 355.6C369.9 357.4 370.7 359.3 371.5 361.1C372.3 362.9 373.2 364.7 374.0 366.5C374.9 368.3 375.8 370.1 376.7 371.9C377.6 373.7 378.5 375.5 379.4 377.2C380.3 379.0 381.3 380.8 382.2 382.5C383.2 384.3 384.2 386.0 385.2 387.8C386.2 389.5 387.2 391.2 388.3 392.9C389.4 394.5 390.5 396.2 391.7 397.8C392.9 399.4 394.1 401.0 395.3 402.6C396.6 404.2 397.8 405.7 399.1 407.2C400.4 408.7 401.8 410.2 403.1 411.7C404.5 413.2 405.8 414.6 407.2 416.1C408.6 417.5 410.0 418.9 411.4 420.4C412.8 421.8 414.2 423.2 415.6 424.7C416.9 426.1 418.3 427.6 419.6 429.1C420.9 430.6 422.2 432.2 423.5 433.7C424.8 435.2 426.1 436.7 427.4 438.2C428.8 439.7 430.2 441.1 431.6 442.5C433.0 443.9 434.5 445.2 436.0 446.6C437.5 447.9 439.0 449.2 440.5 450.6C441.9 451.9 443.4 453.2 444.9 454.6C446.4 455.9 447.9 457.2 449.5 458.5C451.0 459.8 452.5 461.1 454.0 462.4C455.5 463.7 457.0 465.0 458.6 466.3C460.1 467.6 461.6 468.9 463.2 470.2C464.7 471.4 466.2 472.7 467.8 474.0C469.3 475.2 470.9 476.5 472.5 477.7C474.1 478.9 475.7 480.1 477.3 481.2C479.0 482.4 480.6 483.5 482.3 484.6C483.9 485.7 485.6 486.8 487.3 487.9C489.0 488.9 490.7 490.0 492.4 491.0C494.2 492.0 495.9 493.0 497.6 494.0C499.4 494.9 501.1 495.9 502.9 496.8C504.7 497.6 506.5 498.5 508.4 499.3C510.2 500.1 512.1 500.8 513.9 501.6C515.8 502.3 517.6 503.1 519.5 503.8C521.3 504.6 523.2 505.3 525.0 506.1C526.9 506.9 528.7 507.7 530.5 508.5C532.3 509.3 534.2 510.1 536.0 510.9C537.8 511.7 539.7 512.5 541.5 513.3C543.4 514.0 545.3 514.7 547.1 515.4C549.0 516.0 550.9 516.6 552.8 517.2C554.7 517.8 556.7 518.4 558.6 518.9C560.5 519.5 562.4 520.1 564.3 520.7C566.2 521.3 568.1 521.9 570.1 522.4C572.0 522.9 573.9 523.5 575.9 523.9C577.8 524.4 579.7 524.8 581.7 525.1C583.7 525.4 585.7 525.7 587.6 525.7C589.6 525.8 591.6 525.7 593.6 525.5C595.6 525.3 597.5 525.0 599.5 524.6C601.4 524.2 603.4 523.7 605.3 523.2C607.3 522.8 609.2 522.2 611.1 521.8C613.1 521.3 615.0 520.9 617.0 520.4C618.9 520.0 620.9 519.6 622.9 519.2C624.8 518.8 626.8 518.4 628.7 518.0C630.7 517.6 632.7 517.2 634.6 516.9C636.6 516.5 638.6 516.1 640.5 515.8C642.5 515.5 644.5 515.2 646.5 514.9C648.4 514.7 651.1 514.4 652.4 514.2C653.7 514.1 654.1 514.0 654.4 514.0" stroke="#d08a48" stroke-width="2.2"/>
<path d="M83.0 544.8C84.0 544.7 87.0 544.6 89.0 544.5C91.0 544.4 93.0 544.3 95.0 544.1C97.0 543.9 99.0 543.7 100.9 543.3C102.9 542.9 104.8 542.4 106.7 541.7C108.6 541.1 110.4 540.2 112.2 539.4C114.1 538.6 115.8 537.7 117.6 536.8C119.4 535.9 121.1 534.9 122.9 533.9C124.7 533.0 126.4 532.0 128.2 531.1C130.0 530.2 131.8 529.4 133.6 528.5C135.4 527.6 137.1 526.6 138.9 525.6C140.6 524.7 142.4 523.7 144.1 522.6C145.8 521.6 147.6 520.6 149.2 519.5C150.9 518.4 152.4 517.2 154.0 515.9C155.5 514.7 157.0 513.3 158.5 511.9C159.9 510.6 161.4 509.2 162.8 507.8C164.2 506.3 165.6 504.9 166.8 503.3C168.1 501.8 169.3 500.2 170.3 498.5C171.4 496.8 172.2 494.9 173.1 493.1C173.9 491.3 174.6 489.4 175.3 487.6C176.0 485.7 176.7 483.8 177.3 481.9C177.9 480.0 178.4 478.1 179.0 476.1C179.5 474.2 180.1 472.3 180.6 470.4C181.1 468.4 181.7 466.5 182.2 464.6C182.7 462.7 183.2 460.7 183.7 458.8C184.2 456.8 184.6 454.9 185.1 452.9C185.5 451.0 185.9 449.0 186.3 447.1C186.8 445.1 187.2 443.2 187.6 441.2C188.0 439.2 188.4 437.3 188.8 435.3C189.3 433.4 189.7 431.4 190.1 429.5C190.5 427.5 190.9 425.6 191.3 423.6C191.8 421.6 192.2 419.7 192.6 417.7C193.0 415.8 193.4 413.8 193.7 411.8C194.1 409.9 194.5 407.9 194.9 406.0C195.3 404.0 195.7 402.0 196.0 400.1C196.4 398.1 196.8 396.1 197.2 394.2C197.5 392.2 197.9 390.2 198.3 388.3C198.7 386.3 199.0 384.3 199.4 382.4C199.8 380.4 200.1 378.4 200.5 376.5C200.9 374.5 201.2 372.5 201.6 370.6C202.0 368.6 202.3 366.7 202.7 364.7C203.1 362.7 203.5 360.8 203.8 358.8C204.2 356.8 204.5 354.9 204.9 352.9C205.2 350.9 205.6 348.9 205.9 347.0C206.3 345.0 206.6 343.0 206.9 341.1C207.3 339.1 207.6 337.1 208.0 335.2C208.4 333.2 208.8 331.2 209.2 329.3C209.6 327.3 210.0 325.4 210.4 323.4C210.8 321.4 211.3 319.5 211.7 317.5C212.1 315.6 212.6 313.6 213.0 311.7C213.4 309.7 213.9 307.8 214.3 305.8C214.8 303.9 215.2 301.9 215.7 300.0C216.1 298.0 216.5 296.1 217.0 294.1C217.4 292.2 217.8 290.2 218.3 288.3C218.7 286.3 219.1 284.4 219.6 282.4C220.0 280.5 220.4 278.5 220.9 276.6C221.3 274.6 221.7 272.6 222.2 270.7C222.6 268.7 223.0 266.8 223.5 264.8C223.9 262.9 224.3 260.9 224.8 259.0C225.2 257.0 225.6 255.1 226.1 253.1C226.5 251.2 227.0 249.2 227.5 247.3C227.9 245.3 228.4 243.4 228.9 241.5C229.4 239.5 230.0 237.6 230.6 235.7C231.1 233.8 231.8 231.9 232.4 230.0C233.0 228.1 233.7 226.2 234.4 224.3C235.0 222.4 235.7 220.6 236.4 218.7C237.1 216.8 237.8 214.9 238.5 213.1C239.3 211.2 240.0 209.3 240.8 207.5C241.6 205.7 242.5 203.9 243.4 202.1C244.4 200.4 245.4 198.6 246.5 197.0C247.7 195.4 249.0 193.8 250.4 192.4C251.9 191.1 253.5 189.9 255.3 189.0C257.0 188.1 259.0 187.4 261.0 187.0C262.9 186.7 264.9 186.6 266.9 186.6C268.9 186.7 270.9 186.9 272.9 187.3C274.9 187.6 276.8 188.1 278.7 188.7C280.6 189.3 282.5 190.1 284.3 190.9C286.1 191.7 287.9 192.5 289.7 193.4C291.5 194.3 293.4 195.1 295.1 196.1C296.8 197.1 298.6 198.1 300.2 199.3C301.7 200.5 303.2 202.0 304.6 203.3C306.1 204.7 307.5 206.1 308.9 207.5C310.3 209.0 311.6 210.5 312.9 212.0C314.2 213.5 315.5 215.0 316.7 216.6C318.0 218.2 319.2 219.8 320.3 221.4C321.5 223.0 322.7 224.6 323.8 226.3C325.0 227.9 326.1 229.6 327.2 231.2C328.3 232.9 329.4 234.6 330.5 236.2C331.6 237.9 332.7 239.6 333.7 241.3C334.8 243.0 335.8 244.7 336.9 246.4C337.9 248.1 338.9 249.8 339.9 251.6C340.9 253.3 341.9 255.0 342.8 256.8C343.8 258.6 344.7 260.4 345.6 262.2C346.4 263.9 347.2 265.8 348.0 267.6C348.8 269.4 349.6 271.3 350.3 273.2C351.0 275.0 351.8 276.9 352.5 278.7C353.2 280.6 353.9 282.5 354.7 284.3C355.4 286.2 356.2 288.0 356.9 289.9C357.7 291.7 358.5 293.6 359.2 295.4C360.0 297.3 360.8 299.1 361.6 301.0C362.3 302.8 363.1 304.7 363.8 306.5C364.6 308.4 365.3 310.2 366.1 312.1C366.8 313.9 367.5 315.8 368.2 317.7C368.9 319.6 369.6 321.4 370.3 323.3C371.0 325.2 371.7 327.0 372.4 328.9C373.1 330.8 373.8 332.7 374.6 334.5C375.3 336.4 376.0 338.2 376.8 340.1C377.6 341.9 378.4 343.7 379.2 345.6C380.1 347.4 381.0 349.2 381.8 351.0C382.7 352.8 383.6 354.6 384.5 356.3C385.4 358.1 386.3 359.9 387.2 361.7C388.1 363.5 389.0 365.3 389.9 367.1C390.8 368.8 391.8 370.6 392.7 372.4C393.7 374.1 394.6 375.9 395.6 377.6C396.6 379.4 397.6 381.1 398.6 382.8C399.6 384.5 400.6 386.3 401.7 388.0C402.7 389.7 403.8 391.4 404.9 393.0C406.0 394.7 407.2 396.3 408.4 397.9C409.6 399.5 410.9 401.0 412.1 402.6C413.4 404.1 414.6 405.7 415.9 407.2C417.2 408.8 418.4 410.3 419.7 411.8C421.0 413.4 422.3 414.9 423.6 416.4C424.9 418.0 426.2 419.5 427.5 421.0C428.8 422.5 430.1 424.0 431.5 425.4C432.8 426.9 434.2 428.4 435.5 429.9C436.9 431.4 438.2 432.9 439.5 434.3C440.9 435.8 442.2 437.3 443.6 438.7C445.0 440.2 446.4 441.6 447.9 443.0C449.3 444.3 450.8 445.7 452.3 447.0C453.8 448.3 455.3 449.6 456.8 450.9C458.3 452.2 459.9 453.5 461.4 454.8C462.9 456.1 464.5 457.4 466.0 458.7C467.5 459.9 469.1 461.2 470.6 462.5C472.2 463.7 473.8 464.9 475.4 466.2C477.0 467.4 478.6 468.6 480.2 469.7C481.8 470.9 483.4 472.1 485.1 473.2C486.7 474.4 488.4 475.5 490.1 476.5C491.7 477.6 493.4 478.7 495.1 479.7C496.8 480.8 498.5 481.8 500.2 482.9C501.9 484.0 503.6 485.0 505.3 486.1C507.0 487.1 508.7 488.2 510.5 489.1C512.2 490.0 514.0 490.9 515.9 491.6C517.7 492.3 519.6 492.9 521.5 493.6C523.4 494.2 525.3 494.7 527.2 495.3C529.1 495.9 531.1 496.5 532.9 497.1C534.8 497.8 536.7 498.6 538.5 499.3C540.3 500.1 542.2 500.9 544.0 501.8C545.8 502.6 547.6 503.5 549.4 504.4C551.2 505.2 552.9 506.2 554.7 507.1C556.5 508.1 558.2 509.0 560.0 510.0C561.7 510.9 563.5 511.9 565.3 512.8C567.0 513.7 568.8 514.6 570.6 515.5C572.4 516.4 574.2 517.2 576.1 518.0C577.9 518.7 579.8 519.4 581.7 520.0C583.6 520.6 585.5 521.1 587.5 521.5C589.4 522.0 591.4 522.4 593.3 522.8C595.3 523.2 597.3 523.5 599.2 523.9C601.2 524.2 603.2 524.5 605.2 524.7C607.1 524.9 609.1 525.1 611.1 525.2C613.1 525.3 615.1 525.3 617.1 525.2C619.1 525.1 621.1 524.9 623.1 524.7C625.0 524.5 627.0 524.2 629.0 523.8C631.0 523.5 632.9 523.2 634.9 522.8C636.9 522.4 638.8 522.0 640.8 521.5C642.7 521.1 644.7 520.7 646.6 520.2C648.6 519.8 651.2 519.2 652.5 518.9C653.8 518.5 654.1 518.5 654.4 518.4" stroke="#8ea8d2" stroke-width="2.1"/>
<path d="M83.0 545.8C84.0 545.8 87.0 546.0 89.0 546.1C91.0 546.1 93.0 546.2 95.0 546.2C97.0 546.1 99.0 546.1 101.0 545.9C103.0 545.7 105.0 545.4 106.9 545.0C108.9 544.6 110.8 544.0 112.7 543.4C114.6 542.8 116.5 542.1 118.3 541.4C120.2 540.7 122.0 539.8 123.8 539.0C125.7 538.2 127.5 537.3 129.3 536.5C131.1 535.7 133.0 534.9 134.8 534.2C136.7 533.4 138.5 532.7 140.4 531.9C142.2 531.1 144.0 530.2 145.8 529.4C147.6 528.6 149.5 527.9 151.3 527.0C153.1 526.1 154.8 525.1 156.5 524.0C158.2 522.9 159.7 521.5 161.3 520.3C162.9 519.2 164.6 518.1 166.1 516.8C167.7 515.6 169.1 514.2 170.5 512.7C171.8 511.2 173.0 509.6 174.3 508.1C175.5 506.5 176.8 505.0 178.0 503.3C179.1 501.7 180.0 499.9 180.9 498.1C181.8 496.3 182.5 494.4 183.3 492.6C184.1 490.8 184.9 488.9 185.6 487.1C186.3 485.2 186.9 483.3 187.5 481.4C188.1 479.5 188.6 477.5 189.2 475.6C189.8 473.7 190.4 471.8 190.9 469.9C191.4 467.9 191.8 466.0 192.3 464.0C192.8 462.1 193.3 460.2 193.8 458.2C194.3 456.3 194.9 454.4 195.4 452.4C195.9 450.5 196.4 448.6 196.8 446.6C197.2 444.7 197.6 442.7 197.9 440.7C198.3 438.8 198.6 436.8 199.0 434.8C199.3 432.8 199.7 430.9 200.0 428.9C200.4 426.9 200.7 425.0 201.0 423.0C201.4 421.0 201.7 419.1 202.0 417.1C202.4 415.1 202.7 413.1 203.1 411.2C203.4 409.2 203.7 407.2 204.1 405.3C204.4 403.3 204.7 401.3 205.1 399.3C205.4 397.4 205.8 395.4 206.1 393.4C206.4 391.5 206.8 389.5 207.1 387.5C207.5 385.5 207.8 383.6 208.1 381.6C208.5 379.6 208.8 377.7 209.2 375.7C209.5 373.7 209.8 371.8 210.2 369.8C210.5 367.8 210.9 365.8 211.2 363.9C211.5 361.9 211.9 359.9 212.2 358.0C212.6 356.0 212.9 354.0 213.3 352.1C213.6 350.1 214.0 348.1 214.3 346.1C214.7 344.2 215.0 342.2 215.4 340.3C215.8 338.3 216.2 336.3 216.7 334.4C217.1 332.4 217.7 330.5 218.2 328.6C218.7 326.6 219.1 324.7 219.6 322.8C220.1 320.8 220.5 318.9 221.0 316.9C221.4 315.0 221.9 313.0 222.3 311.1C222.8 309.1 223.2 307.2 223.7 305.2C224.1 303.3 224.6 301.3 225.0 299.4C225.5 297.4 225.9 295.5 226.4 293.5C226.8 291.6 227.3 289.6 227.7 287.7C228.2 285.7 228.6 283.8 229.1 281.8C229.5 279.9 230.0 277.9 230.4 276.0C230.9 274.1 231.3 272.1 231.8 270.2C232.2 268.2 232.7 266.3 233.1 264.3C233.6 262.4 234.1 260.4 234.5 258.5C234.9 256.5 235.4 254.6 235.8 252.6C236.3 250.7 236.6 248.7 237.1 246.7C237.5 244.8 237.9 242.8 238.5 240.9C239.1 239.0 239.9 237.2 240.7 235.3C241.4 233.5 242.3 231.6 243.3 229.9C244.3 228.2 245.2 225.9 246.6 225.0C248.1 224.2 250.5 224.5 252.1 224.8C253.7 225.2 254.9 227.5 256.2 227.1C257.4 226.6 258.5 223.8 259.6 222.1C260.7 220.4 261.5 218.6 262.6 216.9C263.7 215.3 264.7 213.5 266.1 212.2C267.6 210.9 269.5 209.9 271.3 209.2C273.2 208.5 275.2 208.1 277.2 207.8C279.1 207.5 281.1 207.4 283.1 207.5C285.1 207.5 287.1 207.8 289.1 208.1C291.1 208.5 293.0 209.1 294.9 209.8C296.7 210.5 298.5 211.4 300.3 212.4C302.0 213.3 303.7 214.4 305.4 215.4C307.1 216.5 308.8 217.5 310.4 218.7C312.0 219.9 313.5 221.2 315.1 222.5C316.6 223.8 318.0 225.2 319.5 226.6C320.9 227.9 322.3 229.4 323.7 230.8C325.0 232.3 326.4 233.8 327.7 235.3C329.0 236.8 330.2 238.4 331.4 239.9C332.7 241.5 333.8 243.1 335.0 244.8C336.1 246.4 337.1 248.1 338.2 249.8C339.2 251.5 340.2 253.3 341.1 255.0C342.1 256.8 343.1 258.5 344.1 260.3C345.1 262.0 346.1 263.7 347.1 265.5C348.0 267.2 349.0 269.0 350.0 270.7C350.9 272.5 351.8 274.3 352.7 276.1C353.6 277.9 354.4 279.7 355.2 281.5C356.0 283.3 356.8 285.2 357.6 287.0C358.4 288.8 359.2 290.7 360.0 292.5C360.8 294.3 361.5 296.2 362.3 298.0C363.1 299.9 363.9 301.7 364.6 303.6C365.4 305.4 366.2 307.2 367.0 309.1C367.8 310.9 368.7 312.7 369.5 314.5C370.3 316.4 371.1 318.2 371.9 320.0C372.7 321.9 373.5 323.7 374.3 325.5C375.0 327.4 375.8 329.2 376.6 331.1C377.3 332.9 378.1 334.8 378.8 336.6C379.6 338.5 380.3 340.3 381.1 342.2C382.0 344.0 382.8 345.8 383.7 347.6C384.6 349.4 385.5 351.1 386.4 352.9C387.4 354.7 388.4 356.4 389.3 358.2C390.3 359.9 391.2 361.7 392.2 363.4C393.1 365.2 394.1 367.0 395.0 368.7C396.0 370.5 396.9 372.2 397.9 374.0C398.9 375.7 399.9 377.4 400.9 379.1C402.0 380.8 403.1 382.5 404.2 384.2C405.3 385.8 406.5 387.5 407.7 389.1C408.8 390.7 410.0 392.3 411.2 393.9C412.4 395.5 413.6 397.1 414.8 398.7C416.1 400.3 417.3 401.9 418.5 403.4C419.7 405.0 421.0 406.6 422.2 408.1C423.5 409.7 424.8 411.2 426.1 412.8C427.3 414.3 428.7 415.8 430.0 417.3C431.3 418.8 432.6 420.3 434.0 421.7C435.4 423.2 436.7 424.7 438.1 426.1C439.5 427.6 440.9 429.0 442.3 430.4C443.7 431.8 445.1 433.3 446.5 434.7C447.9 436.1 449.4 437.5 450.8 438.8C452.3 440.2 453.7 441.6 455.2 443.0C456.6 444.3 458.1 445.7 459.6 447.0C461.1 448.3 462.6 449.7 464.1 451.0C465.6 452.3 467.1 453.6 468.7 454.9C470.2 456.2 471.7 457.4 473.3 458.7C474.9 459.9 476.5 461.1 478.1 462.3C479.7 463.4 481.4 464.5 483.0 465.7C484.7 466.8 486.4 467.9 488.0 469.0C489.7 470.1 491.3 471.3 493.0 472.4C494.6 473.5 496.3 474.7 497.9 475.8C499.5 476.9 501.2 478.1 502.8 479.2C504.5 480.3 506.2 481.4 507.9 482.5C509.6 483.5 511.3 484.5 513.1 485.4C514.8 486.4 516.6 487.2 518.4 488.1C520.3 488.9 522.1 489.6 524.0 490.3C525.8 491.0 527.7 491.7 529.6 492.4C531.5 493.1 533.4 493.7 535.3 494.4C537.1 495.1 539.0 495.8 540.9 496.5C542.8 497.2 544.6 497.9 546.5 498.6C548.4 499.3 550.3 500.0 552.1 500.7C554.0 501.4 555.9 502.1 557.7 502.8C559.6 503.6 561.4 504.3 563.3 505.0C565.2 505.8 567.0 506.6 568.8 507.4C570.7 508.1 572.5 508.9 574.4 509.7C576.2 510.4 578.1 511.2 579.9 511.9C581.8 512.7 583.6 513.4 585.5 514.1C587.4 514.7 589.3 515.3 591.2 515.9C593.1 516.5 595.1 517.0 597.0 517.5C598.9 518.0 600.9 518.5 602.8 519.0C604.8 519.4 606.7 519.9 608.7 520.2C610.6 520.6 612.6 520.9 614.6 521.2C616.6 521.5 618.5 521.7 620.5 521.9C622.5 522.0 624.5 522.1 626.5 522.2C628.5 522.2 630.5 522.2 632.5 522.1C634.5 522.1 636.5 522.0 638.5 521.8C640.5 521.7 642.5 521.5 644.5 521.3C646.5 521.1 648.8 520.8 650.4 520.7C652.1 520.5 653.7 520.3 654.4 520.2" stroke="#0f6ab2" stroke-width="2.5" stroke-dasharray="6.2 10.8" stroke-dashoffset="3.30" stroke-linecap="round"/>
<path d="M83.0 545.8C84.0 545.8 87.0 546.0 89.0 546.1C91.0 546.1 93.0 546.2 95.0 546.2C97.0 546.1 99.0 546.1 101.0 545.9C103.0 545.8 105.0 545.5 106.9 545.1C108.9 544.8 110.9 544.3 112.8 543.7C114.7 543.2 116.6 542.7 118.5 542.0C120.4 541.4 122.3 540.7 124.2 540.0C126.1 539.3 127.9 538.5 129.8 537.8C131.7 537.2 133.6 536.6 135.5 535.9C137.4 535.2 139.2 534.5 141.0 533.6C142.9 532.8 144.6 531.9 146.4 531.0C148.2 530.1 150.0 529.2 151.8 528.3C153.6 527.4 155.3 526.4 157.1 525.5C158.8 524.5 160.6 523.5 162.3 522.5C164.1 521.5 165.8 520.6 167.5 519.6C169.3 518.6 171.0 517.6 172.7 516.5C174.4 515.5 176.1 514.3 177.7 513.2C179.3 512.0 180.9 510.8 182.4 509.4C183.9 508.1 185.3 506.7 186.6 505.2C188.0 503.7 189.2 502.1 190.3 500.4C191.4 498.8 192.4 497.0 193.3 495.3C194.2 493.5 195.0 491.6 195.8 489.8C196.5 487.9 197.1 486.0 197.7 484.1C198.4 482.2 198.9 480.3 199.5 478.4C200.1 476.4 200.7 474.5 201.2 472.6C201.8 470.7 202.4 468.8 203.0 466.9C203.6 465.0 204.2 463.1 204.8 461.1C205.4 459.2 205.9 457.3 206.5 455.4C207.0 453.5 207.5 451.5 208.0 449.6C208.6 447.6 209.0 445.7 209.5 443.8C210.0 441.8 210.5 439.9 211.0 437.9C211.5 436.0 212.0 434.1 212.5 432.1C213.0 430.2 213.4 428.2 213.9 426.3C214.3 424.3 214.8 422.4 215.2 420.4C215.6 418.5 215.9 416.5 216.3 414.5C216.7 412.6 217.1 410.6 217.5 408.6C217.9 406.7 218.3 404.7 218.9 402.8C219.4 400.9 220.0 399.0 220.6 397.1C221.2 395.1 221.8 393.2 222.4 391.3C222.9 389.4 223.5 387.5 224.1 385.5C224.6 383.6 225.2 381.7 225.8 379.8C226.4 377.9 227.1 376.0 227.7 374.1C228.3 372.2 228.9 370.3 229.5 368.4C230.0 366.5 230.6 364.5 231.1 362.6C231.7 360.7 232.3 358.8 232.9 356.8C233.5 354.9 234.1 353.0 234.8 351.1C235.4 349.3 236.1 347.4 236.9 345.5C237.6 343.7 238.4 341.8 239.3 340.0C240.2 338.3 241.3 336.6 242.4 334.9C243.5 333.2 244.8 331.7 245.7 329.9C246.6 328.1 247.2 326.2 247.6 324.2C248.1 322.3 248.3 320.3 248.5 318.3C248.7 316.3 248.7 314.3 248.9 312.3C249.0 310.3 249.2 308.3 249.4 306.3C249.6 304.3 249.9 302.3 250.1 300.4C250.3 298.4 250.6 296.4 250.9 294.4C251.1 292.4 251.4 290.4 251.7 288.5C252.0 286.5 252.3 284.5 252.6 282.5C252.9 280.5 253.2 278.6 253.6 276.6C253.9 274.6 254.2 272.6 254.6 270.7C254.9 268.7 255.2 266.7 255.5 264.7C255.9 262.8 256.2 260.8 256.5 258.8C256.8 256.8 257.1 254.9 257.4 252.9C257.7 250.9 258.0 248.9 258.3 246.9C258.6 245.0 259.0 243.0 259.3 241.0C259.6 239.0 259.9 237.1 260.2 235.1C260.6 233.1 260.9 231.1 261.3 229.2C261.6 227.2 262.0 225.2 262.4 223.3C262.9 221.3 263.4 219.4 264.0 217.5C264.6 215.6 265.3 213.7 266.1 211.8C266.9 210.0 267.7 208.2 268.8 206.5C269.9 204.9 271.2 203.3 272.7 202.0C274.2 200.7 275.9 199.5 277.7 198.7C279.5 197.9 281.5 197.4 283.5 197.1C285.4 196.9 287.5 196.9 289.5 197.1C291.5 197.3 293.4 197.8 295.4 198.2C297.3 198.7 299.3 199.1 301.1 199.9C303.0 200.6 304.7 201.8 306.4 202.8C308.1 203.8 309.8 204.9 311.4 206.1C313.0 207.2 314.6 208.4 316.2 209.7C317.7 210.9 319.2 212.3 320.7 213.6C322.2 215.0 323.6 216.4 325.0 217.8C326.4 219.2 327.8 220.6 329.2 222.1C330.5 223.6 331.8 225.1 333.1 226.7C334.3 228.2 335.5 229.8 336.7 231.4C337.9 233.0 339.0 234.7 340.1 236.3C341.3 238.0 342.3 239.7 343.4 241.4C344.5 243.1 345.5 244.8 346.5 246.5C347.5 248.3 348.5 250.0 349.4 251.8C350.4 253.5 351.3 255.3 352.2 257.1C353.1 258.8 354.0 260.6 354.9 262.4C355.8 264.2 356.6 266.0 357.5 267.9C358.3 269.7 359.2 271.5 360.0 273.3C360.8 275.1 361.6 277.0 362.4 278.8C363.3 280.6 364.1 282.4 364.9 284.3C365.7 286.1 366.5 287.9 367.3 289.8C368.1 291.6 368.9 293.5 369.7 295.3C370.4 297.1 371.2 299.0 372.0 300.8C372.8 302.7 373.5 304.5 374.3 306.4C375.0 308.2 375.8 310.1 376.5 312.0C377.2 313.8 378.0 315.7 378.7 317.5C379.5 319.4 380.3 321.2 381.1 323.1C381.9 324.9 382.7 326.7 383.5 328.5C384.3 330.4 385.2 332.2 386.1 334.0C386.9 335.8 387.8 337.6 388.7 339.4C389.6 341.2 390.5 343.0 391.4 344.7C392.3 346.5 393.2 348.3 394.2 350.0C395.2 351.8 396.2 353.5 397.2 355.3C398.2 357.0 399.2 358.7 400.2 360.4C401.3 362.1 402.3 363.9 403.3 365.6C404.4 367.3 405.4 369.0 406.4 370.7C407.5 372.4 408.5 374.1 409.5 375.9C410.5 377.6 411.5 379.3 412.5 381.0C413.6 382.8 414.6 384.5 415.6 386.2C416.7 387.9 417.8 389.5 419.0 391.1C420.2 392.7 421.4 394.3 422.7 395.9C423.9 397.4 425.2 399.0 426.4 400.5C427.7 402.1 428.9 403.7 430.2 405.2C431.4 406.8 432.7 408.4 433.9 409.9C435.2 411.4 436.5 412.9 437.9 414.4C439.2 415.9 440.6 417.4 442.0 418.8C443.4 420.2 444.8 421.7 446.2 423.1C447.6 424.5 449.1 425.9 450.5 427.3C451.9 428.6 453.4 430.0 454.8 431.4C456.2 432.9 457.6 434.3 458.9 435.8C460.2 437.3 461.5 438.9 462.8 440.4C464.0 441.9 465.3 443.5 466.6 445.0C467.9 446.5 469.2 448.1 470.5 449.6C471.9 451.0 473.2 452.5 474.6 453.9C476.0 455.3 477.5 456.7 479.0 458.0C480.5 459.3 482.1 460.6 483.7 461.8C485.2 463.0 486.9 464.1 488.6 465.2C490.2 466.3 491.9 467.4 493.7 468.4C495.4 469.4 497.1 470.4 498.9 471.3C500.6 472.3 502.4 473.2 504.2 474.1C506.0 474.9 507.8 475.7 509.7 476.6C511.5 477.4 513.3 478.2 515.2 479.0C517.0 479.8 518.8 480.6 520.7 481.4C522.5 482.2 524.3 483.0 526.1 483.8C528.0 484.6 529.8 485.4 531.7 486.2C533.5 487.0 535.4 487.7 537.2 488.4C539.1 489.1 541.0 489.8 542.9 490.5C544.8 491.1 546.7 491.8 548.5 492.5C550.4 493.1 552.3 493.8 554.2 494.5C556.1 495.1 558.0 495.8 559.9 496.5C561.8 497.1 563.6 497.8 565.5 498.5C567.4 499.1 569.3 499.8 571.2 500.5C573.1 501.1 575.0 501.8 576.9 502.5C578.7 503.1 580.6 503.8 582.5 504.5C584.4 505.3 586.2 506.0 588.1 506.7C589.9 507.5 591.8 508.2 593.7 508.9C595.5 509.6 597.4 510.4 599.3 511.0C601.2 511.7 603.1 512.3 605.0 512.9C606.9 513.4 608.8 513.9 610.8 514.4C612.7 514.9 614.7 515.3 616.6 515.7C618.6 516.1 620.6 516.5 622.5 516.8C624.5 517.1 626.5 517.4 628.5 517.6C630.5 517.9 632.5 518.1 634.4 518.3C636.4 518.5 638.4 518.7 640.4 518.9C642.4 519.1 644.4 519.2 646.4 519.3C648.4 519.5 651.1 519.6 652.4 519.6C653.7 519.7 654.1 519.7 654.4 519.7" stroke="#afc490" stroke-width="2.2"/>
<path d="M83.0 545.8C84.0 545.8 87.0 546.0 89.0 546.1C91.0 546.1 93.0 546.2 95.0 546.2C97.0 546.1 99.0 546.1 101.0 545.9C103.0 545.8 105.0 545.5 106.9 545.1C108.9 544.8 110.8 544.3 112.8 543.8C114.7 543.2 116.6 542.7 118.5 542.1C120.4 541.4 122.3 540.7 124.2 540.0C126.0 539.3 127.9 538.5 129.8 537.9C131.6 537.2 133.6 536.6 135.5 535.9C137.3 535.2 139.2 534.5 141.0 533.7C142.8 532.8 144.6 531.9 146.4 531.0C148.2 530.1 150.0 529.2 151.8 528.3C153.5 527.4 155.3 526.5 157.0 525.5C158.8 524.5 160.5 523.5 162.3 522.5C164.0 521.6 165.8 520.6 167.5 519.6C169.2 518.6 171.0 517.6 172.7 516.6C174.4 515.5 176.0 514.4 177.6 513.2C179.3 512.0 180.9 510.8 182.3 509.5C183.8 508.1 185.3 506.7 186.6 505.2C187.9 503.8 189.2 502.2 190.3 500.5C191.4 498.9 192.4 497.1 193.3 495.3C194.2 493.6 195.0 491.7 195.7 489.8C196.5 488.0 197.1 486.1 197.7 484.2C198.3 482.3 198.9 480.4 199.5 478.4C200.0 476.5 200.6 474.6 201.2 472.7C201.8 470.8 202.4 468.9 203.0 467.0C203.6 465.1 204.2 463.1 204.8 461.2C205.3 459.3 205.9 457.4 206.4 455.5C207.0 453.5 207.5 451.6 208.0 449.7C208.5 447.7 209.0 445.8 209.5 443.9C210.0 441.9 210.5 440.0 211.0 438.1C211.5 436.1 212.0 434.2 212.5 432.3C213.1 430.3 213.6 428.4 214.1 426.5C214.7 424.5 215.2 422.6 215.7 420.7C216.3 418.8 216.8 416.8 217.4 414.9C218.0 413.0 218.6 411.1 219.2 409.2C219.8 407.3 220.5 405.4 221.1 403.5C221.8 401.6 222.5 399.7 223.1 397.9C223.8 396.0 224.5 394.1 225.2 392.2C225.9 390.4 226.6 388.5 227.3 386.6C228.0 384.7 228.7 382.8 229.3 381.0C230.0 379.1 230.6 377.2 231.3 375.3C231.9 373.4 232.6 371.5 233.4 369.7C234.2 367.8 235.1 366.0 236.0 364.2C236.9 362.5 237.8 360.7 238.8 359.0C239.9 357.3 241.2 355.7 242.4 354.1C243.5 352.5 245.0 351.1 245.9 349.3C246.9 347.6 247.5 345.6 248.0 343.7C248.5 341.8 248.7 339.8 249.0 337.8C249.4 335.8 249.6 333.8 249.9 331.8C250.1 329.9 250.4 327.9 250.7 325.9C251.0 323.9 251.2 321.9 251.5 319.9C251.7 318.0 252.0 316.0 252.2 314.0C252.5 312.0 252.7 310.0 253.0 308.0C253.3 306.1 253.6 304.1 254.0 302.1C254.3 300.1 254.6 298.2 255.0 296.2C255.5 294.3 255.9 292.3 256.4 290.4C256.9 288.4 257.4 286.5 257.9 284.6C258.5 282.6 259.0 280.7 259.5 278.8C260.1 276.9 260.6 274.9 261.3 273.0C261.9 271.1 262.6 269.3 263.4 267.4C264.1 265.6 265.0 263.7 265.9 262.0C266.9 260.3 268.0 258.5 269.2 256.9C270.4 255.4 271.6 253.7 273.1 252.4C274.6 251.1 276.3 249.9 278.1 249.1C279.9 248.3 281.9 247.9 283.9 247.6C285.8 247.2 287.9 247.2 289.8 247.2C291.8 247.3 293.8 247.5 295.8 247.9C297.8 248.2 299.8 248.6 301.7 249.1C303.6 249.7 305.5 250.4 307.3 251.2C309.1 252.0 310.9 252.9 312.6 253.9C314.3 254.9 316.0 256.1 317.6 257.2C319.2 258.4 320.8 259.6 322.4 260.9C323.9 262.1 325.5 263.4 327.0 264.7C328.5 266.0 330.0 267.3 331.5 268.6C333.0 270.0 334.4 271.4 335.8 272.8C337.2 274.2 338.6 275.7 339.9 277.2C341.2 278.6 342.5 280.2 343.7 281.8C344.9 283.4 346.1 285.0 347.3 286.6C348.4 288.2 349.5 289.9 350.6 291.6C351.6 293.3 352.7 295.0 353.7 296.7C354.7 298.5 355.7 300.2 356.7 301.9C357.6 303.7 358.6 305.5 359.5 307.2C360.5 309.0 361.4 310.7 362.4 312.5C363.4 314.2 364.4 316.0 365.4 317.7C366.4 319.4 367.4 321.1 368.5 322.8C369.5 324.5 370.6 326.2 371.6 327.9C372.7 329.6 373.7 331.3 374.8 333.0C375.8 334.7 376.9 336.4 378.0 338.1C379.0 339.8 380.1 341.5 381.1 343.2C382.1 344.9 383.2 346.7 384.2 348.4C385.2 350.1 386.2 351.8 387.2 353.6C388.2 355.3 389.3 357.0 390.3 358.7C391.3 360.5 392.3 362.2 393.3 363.9C394.3 365.7 395.3 367.4 396.3 369.1C397.3 370.8 398.4 372.5 399.5 374.2C400.6 375.9 401.7 377.5 402.9 379.1C404.1 380.7 405.3 382.3 406.5 383.9C407.8 385.4 409.1 386.9 410.4 388.4C411.7 389.9 413.1 391.4 414.4 392.9C415.8 394.4 417.2 395.8 418.5 397.3C419.9 398.8 421.2 400.2 422.6 401.7C423.9 403.2 425.2 404.7 426.5 406.2C427.8 407.7 429.1 409.3 430.4 410.8C431.8 412.3 433.1 413.8 434.4 415.3C435.7 416.8 437.1 418.2 438.4 419.7C439.8 421.2 441.2 422.6 442.6 424.1C443.9 425.5 445.4 426.9 446.8 428.4C448.2 429.8 449.6 431.2 451.0 432.6C452.4 434.0 453.8 435.4 455.2 436.8C456.6 438.3 458.0 439.7 459.4 441.1C460.8 442.6 462.2 444.0 463.7 445.4C465.1 446.8 466.5 448.2 468.0 449.5C469.5 450.8 471.0 452.2 472.6 453.4C474.1 454.7 475.6 456.0 477.2 457.2C478.8 458.4 480.4 459.6 482.0 460.8C483.6 462.0 485.3 463.1 487.0 464.2C488.6 465.3 490.3 466.4 492.0 467.4C493.7 468.4 495.5 469.4 497.2 470.4C499.0 471.4 500.7 472.3 502.5 473.2C504.3 474.1 506.1 475.0 507.9 475.8C509.7 476.6 511.6 477.4 513.4 478.2C515.2 479.0 517.1 479.8 518.9 480.6C520.7 481.4 522.6 482.3 524.4 483.1C526.2 483.9 528.0 484.7 529.9 485.5C531.7 486.2 533.6 487.0 535.4 487.7C537.3 488.4 539.2 489.1 541.1 489.8C542.9 490.5 544.8 491.2 546.7 491.8C548.6 492.5 550.5 493.2 552.4 493.8C554.3 494.5 556.2 495.2 558.0 495.8C559.9 496.5 561.8 497.2 563.7 497.8C565.6 498.5 567.5 499.2 569.4 499.8C571.2 500.5 573.1 501.1 575.0 501.8C576.9 502.5 578.8 503.2 580.7 503.9C582.5 504.6 584.4 505.3 586.2 506.0C588.1 506.7 590.0 507.5 591.8 508.2C593.7 508.9 595.6 509.7 597.4 510.3C599.3 511.0 601.2 511.7 603.1 512.3C605.0 512.9 606.9 513.4 608.9 513.9C610.8 514.4 612.8 514.9 614.7 515.3C616.7 515.7 618.6 516.1 620.6 516.5C622.6 516.8 624.5 517.1 626.5 517.4C628.5 517.7 630.5 517.9 632.5 518.1C634.5 518.3 636.4 518.5 638.4 518.7C640.4 518.9 642.4 519.1 644.4 519.2C646.4 519.3 648.7 519.5 650.4 519.5C652.1 519.6 653.7 519.7 654.4 519.7" stroke="#d80606" stroke-width="2.6"/>
</g>
<g style="filter:grayscale(1)">
<text x="68.2" y="574.4" font-size="13.9" text-anchor="end" textLength="21.0" lengthAdjust="spacingAndGlyphs">400</text>
<text x="68.2" y="521.3" font-size="13.9" text-anchor="end" textLength="21.0" lengthAdjust="spacingAndGlyphs">600</text>
<text x="68.2" y="468.1" font-size="13.9" text-anchor="end" textLength="21.0" lengthAdjust="spacingAndGlyphs">800</text>
<text x="68.2" y="415.0" font-size="13.9" text-anchor="end" textLength="28.0" lengthAdjust="spacingAndGlyphs">1000</text>
<text x="68.2" y="361.8" font-size="13.9" text-anchor="end" textLength="28.0" lengthAdjust="spacingAndGlyphs">1200</text>
<text x="68.2" y="308.7" font-size="13.9" text-anchor="end" textLength="28.0" lengthAdjust="spacingAndGlyphs">1400</text>
<text x="68.2" y="255.6" font-size="13.9" text-anchor="end" textLength="28.0" lengthAdjust="spacingAndGlyphs">1600</text>
<text x="68.2" y="202.4" font-size="13.9" text-anchor="end" textLength="28.0" lengthAdjust="spacingAndGlyphs">1800</text>
<text x="68.2" y="149.3" font-size="13.9" text-anchor="end" textLength="28.0" lengthAdjust="spacingAndGlyphs">2000</text>
<text x="83.2" y="595.2" font-size="13.9" text-anchor="middle" textLength="6.8" lengthAdjust="spacingAndGlyphs">0</text>
<text x="154.6" y="595.2" font-size="13.9" text-anchor="middle" textLength="14.4" lengthAdjust="spacingAndGlyphs">10</text>
<text x="226.1" y="595.2" font-size="13.9" text-anchor="middle" textLength="14.4" lengthAdjust="spacingAndGlyphs">20</text>
<text x="297.5" y="595.2" font-size="13.9" text-anchor="middle" textLength="14.4" lengthAdjust="spacingAndGlyphs">30</text>
<text x="368.9" y="595.2" font-size="13.9" text-anchor="middle" textLength="14.4" lengthAdjust="spacingAndGlyphs">40</text>
<text x="440.4" y="595.2" font-size="13.9" text-anchor="middle" textLength="14.4" lengthAdjust="spacingAndGlyphs">50</text>
<text x="511.8" y="595.2" font-size="13.9" text-anchor="middle" textLength="14.4" lengthAdjust="spacingAndGlyphs">60</text>
<text x="583.3" y="595.2" font-size="13.9" text-anchor="middle" textLength="14.4" lengthAdjust="spacingAndGlyphs">70</text>
<text x="654.7" y="595.2" font-size="13.9" text-anchor="middle" textLength="14.4" lengthAdjust="spacingAndGlyphs">80</text>
<text x="324.4" y="620.9" font-size="20" textLength="51.2" lengthAdjust="spacingAndGlyphs">TIME,</text>
<text x="381.2" y="620.9" font-size="20" textLength="47.6" lengthAdjust="spacingAndGlyphs">hours</text>
<text class="sans" transform="translate(19.9 454.9) rotate(-90)" font-size="15" textLength="97" lengthAdjust="spacingAndGlyphs">DISCHARGE,</text>
<text class="sans" transform="translate(19.9 347.2) rotate(-90)" font-size="15" textLength="33.4" lengthAdjust="spacingAndGlyphs">m<tspan font-size="10" dy="-4.4">3</tspan><tspan dy="4.4">/s</tspan></text>
</g>
<rect x="97.5" y="19" width="586.5" height="83.5" fill="#ffffff" stroke="#a87f7f" stroke-width="1"/>
<line x1="107.3" y1="27.7" x2="134.0" y2="27.7" stroke="#4872aa" stroke-width="1.8"/>
<line x1="400.2" y1="27.7" x2="427.2" y2="27.7" stroke="#a04343" stroke-width="1.7"/>
<line x1="108.3" y1="44.3" x2="133.0" y2="44.3" stroke="#000000" stroke-width="2.1" stroke-dasharray="7.5 9.6" stroke-linecap="round"/>
<line x1="401.2" y1="44.3" x2="426.2" y2="44.3" stroke="#b40808" stroke-width="2.0" stroke-dasharray="7.5 9.6" stroke-linecap="round"/>
<line x1="107.3" y1="61.2" x2="134.0" y2="61.2" stroke="#d08a48" stroke-width="1.9"/>
<line x1="400.2" y1="61.2" x2="427.2" y2="61.2" stroke="#8ea8d2" stroke-width="1.8"/>
<line x1="108.3" y1="77.8" x2="133.0" y2="77.8" stroke="#0f6ab2" stroke-width="2.1" stroke-dasharray="7.5 9.6" stroke-linecap="round"/>
<line x1="400.2" y1="77.8" x2="427.2" y2="77.8" stroke="#afc490" stroke-width="1.9"/>
<line x1="107.3" y1="94.7" x2="134.0" y2="94.7" stroke="#d80606" stroke-width="2.2"/>
<g style="filter:grayscale(1)">
<text x="136.7" y="31.9" font-size="13.9" textLength="149.1" lengthAdjust="spacingAndGlyphs">THERAPEIO, 32.43 km</text>
<text x="429.7" y="31.9" font-size="13.9" textLength="133.1" lengthAdjust="spacingAndGlyphs">KOMARA, 28.58 km</text>
<text x="136.4" y="48.5" font-size="13.9" textLength="172.1" lengthAdjust="spacingAndGlyphs">AMMOVOUNO, 26.48 km</text>
<text x="429.7" y="48.5" font-size="13.9" textLength="129.6" lengthAdjust="spacingAndGlyphs">FYLAKIO, 21.84 km</text>
<text x="140.2" y="65.2" font-size="13.9" textLength="108.6" lengthAdjust="spacingAndGlyphs">ELAIA, 18.69 km</text>
<text x="429.7" y="65.2" font-size="13.9" textLength="98.6" lengthAdjust="spacingAndGlyphs">RIZIA, 8.62 km</text>
<text x="136.4" y="81.9" font-size="13.9" textLength="143.1" lengthAdjust="spacingAndGlyphs">KASTANIES, 2.47 km</text>
<text x="429.3" y="81.9" font-size="13.9" textLength="123.4" lengthAdjust="spacingAndGlyphs">GREECE-TURKEY</text>
<text x="558.8" y="81.9" font-size="13.9" textLength="61.2" lengthAdjust="spacingAndGlyphs">BORDER</text>
<text x="623.6" y="81.9" font-size="13.9" textLength="53.8" lengthAdjust="spacingAndGlyphs">,1.28 km</text>
<text x="136.9" y="98.6" font-size="13.9" textLength="35.6" lengthAdjust="spacingAndGlyphs">NEAR</text>
<text x="178.4" y="98.6" font-size="13.9" textLength="101.8" lengthAdjust="spacingAndGlyphs">ARDA-EVROS</text>
<text x="285.9" y="98.6" font-size="13.9" textLength="98.4" lengthAdjust="spacingAndGlyphs">CONFLUENCE</text>
</g>
</svg>
</body></html>
